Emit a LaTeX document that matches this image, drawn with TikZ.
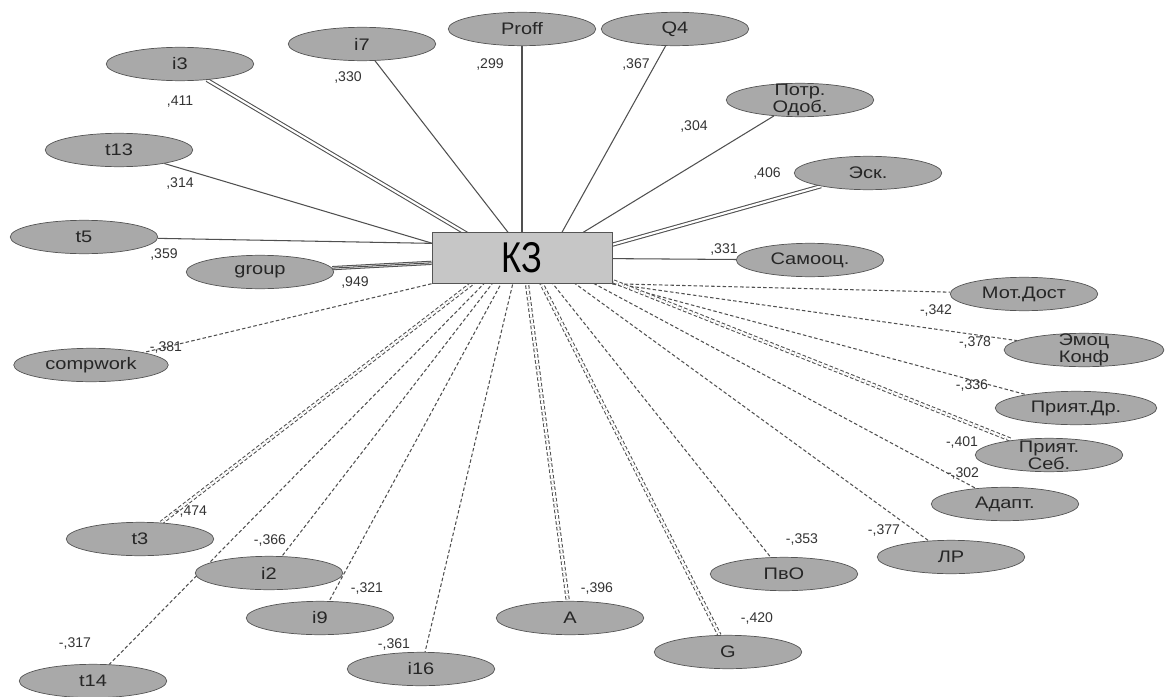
\documentclass[tikz,border=0pt]{standalone}
\usepackage{fontspec}
\setmainfont{Liberation Sans}
\newfontfamily\widefont{Liberation Sans}[FakeStretch=1.2]
\newfontfamily\narrowfont{Liberation Sans}[FakeStretch=0.8]
\usetikzlibrary{shapes.geometric,backgrounds}
\definecolor{ovalgray}{HTML}{A9A9A9}
\definecolor{boxgray}{HTML}{C6C6C6}
\definecolor{edgegray}{HTML}{555555}
\definecolor{linkgray}{HTML}{505050}
\tikzset{
	var/.style={draw=edgegray,fill=ovalgray,ellipse,inner sep=0,minimum width=84pt,minimum height=19pt,text=black!85,font=\widefont\fontsize{9.5}{9.5}\selectfont},
	twoline/.style={align=center,inner sep=0,text=black!85,font=\widefont\fontsize{9.5}{9.5}\selectfont},
	coef/.style={inner sep=0,text=black!80,font=\fontsize{8}{8}\selectfont},
	poslink/.style={draw=linkgray,line width=0.6pt},
	neglink/.style={poslink,dash pattern=on 2pt off 1.3pt},
	strong/.style={double=white,double distance=1.2pt}
}

\begin{document}
\begin{tikzpicture}[x=0.02cm,y=-0.02cm]
	\useasboundingbox (0,0) rectangle (1168,696);
	\node[draw=edgegray,fill=boxgray,inner sep=0,minimum width=102.6pt,minimum height=28.9pt,font=\narrowfont\fontsize{24.5}{24.5}\selectfont] (kz) at (522,258) {КЗ};
	\coordinate (hub) at (522,245);
	\coordinate (hubnw) at (545,280);
	\coordinate (hubne) at (551,252);
	\coordinate (hubside) at (522,270);
	\node[var] (i3) at (180,64) {i3};
	\node[var] (i7) at (362,44) {i7};
	\node[var] (proff) at (522,29) {Proff};
	\node[var] (q4) at (675,29) {Q4};
	\node[var,label={[twoline]center:Потр.\\Одоб.}] (potr) at (800,100) {};
	\node[var] (esk) at (868,173) {Эск.};
	\node[var] (samo) at (810,260) {Самооц.};
	\node[var] (motd) at (1024,294) {Мот.Дост};
	\node[var,minimum width=91pt,label={[twoline]center:Эмоц\\Конф}] (emoc) at (1084,350) {};
	\node[var,minimum width=92pt] (prd) at (1076,408) {Прият.Др.};
	\node[var,label={[twoline]center:Прият.\\Себ.}] (prs) at (1049,455) {};
	\node[var] (adapt) at (1005,504) {Адапт.};
	\node[var] (lr) at (951,557) {ЛР};
	\node[var] (pvo) at (784,574) {ПвО};
	\node[var] (G) at (728,652) {G};
	\node[var] (A) at (570,618) {A};
	\node[var] (i16) at (421,669) {i16};
	\node[var] (i9) at (320,618) {i9};
	\node[var] (i2) at (269,573) {i2};
	\node[var] (t3) at (140,539) {t3};
	\node[var] (t14) at (93,681) {t14};
	\node[var,minimum width=88pt] (comp) at (91,365) {compwork};
	\node[var] (t5) at (84,237) {t5};
	\node[var] (group) at (260,272) {group};
	\node[var] (t13) at (119,150) {t13};
	\node[coef] (c411) at (180,102) {,411};
	\node[coef] (c330) at (348,77) {,330};
	\node[coef] (c299) at (490,64) {,299};
	\node[coef] (c367) at (636,64) {,367};
	\node[coef] (c304) at (694,126) {,304};
	\node[coef] (c406) at (767,173) {,406};
	\node[coef] (c314) at (180,183) {,314};
	\node[coef] (c359) at (164,254) {,359};
	\node[coef] (c949) at (355,282) {,949};
	\node[coef] (c331) at (724,249) {,331};
	\node[coef] (c381) at (166,347) {-,381};
	\node[coef] (c342) at (936,310) {-,342};
	\node[coef] (c378) at (975,342) {-,378};
	\node[coef] (c336) at (972,385) {-,336};
	\node[coef] (c401) at (962,442) {-,401};
	\node[coef] (c302) at (963,473) {-,302};
	\node[coef] (c377) at (884,530) {-,377};
	\node[coef] (c353) at (802,539) {-,353};
	\node[coef] (c420) at (757,618) {-,420};
	\node[coef] (c396) at (597,588) {-,396};
	\node[coef] (c361) at (394,644) {-,361};
	\node[coef] (c321) at (367,588) {-,321};
	\node[coef] (c366) at (270,540) {-,366};
	\node[coef] (c474) at (191,512) {-,474};
	\node[coef] (c317) at (75,643) {-,317};
	\begin{scope}[on background layer]
		\draw[poslink,strong] (hubnw) -- (i3);
		\draw[poslink] (hubnw) -- (i7);
		\draw[poslink] (kz) -- (proff);
		\draw[poslink] (hubne) -- (q4);
		\draw[poslink] (hubne) -- (potr);
		\draw[poslink,strong] (hubside) -- (esk);
		\draw[poslink] (kz) -- (samo);
		\draw[poslink] (hubside) -- (t13);
		\draw[poslink] (hub) -- (t5);
		\draw[poslink,strong] (kz) -- (group);
		\draw[poslink] (kz) -- (group);
		\draw[neglink] (kz.south west) -- (comp);
		\draw[neglink] (kz.south east) -- (motd);
		\draw[neglink] (kz.south east) -- (emoc);
		\draw[neglink] (kz.south east) -- (prd);
		\draw[neglink,strong] (hub) -- (prs);
		\draw[neglink] (hub) -- (adapt);
		\draw[neglink] (hub) -- (lr);
		\draw[neglink] (hub) -- (pvo);
		\draw[neglink,strong] (hub) -- (G);
		\draw[neglink,strong] (hub) -- (A);
		\draw[neglink] (hub) -- (i16);
		\draw[neglink] (hub) -- (i9);
		\draw[neglink] (hub) -- (i2);
		\draw[neglink,strong] (hub) -- (t3);
		\draw[neglink] (hub) -- (t14);
	\end{scope}
\end{tikzpicture}
\end{document}
